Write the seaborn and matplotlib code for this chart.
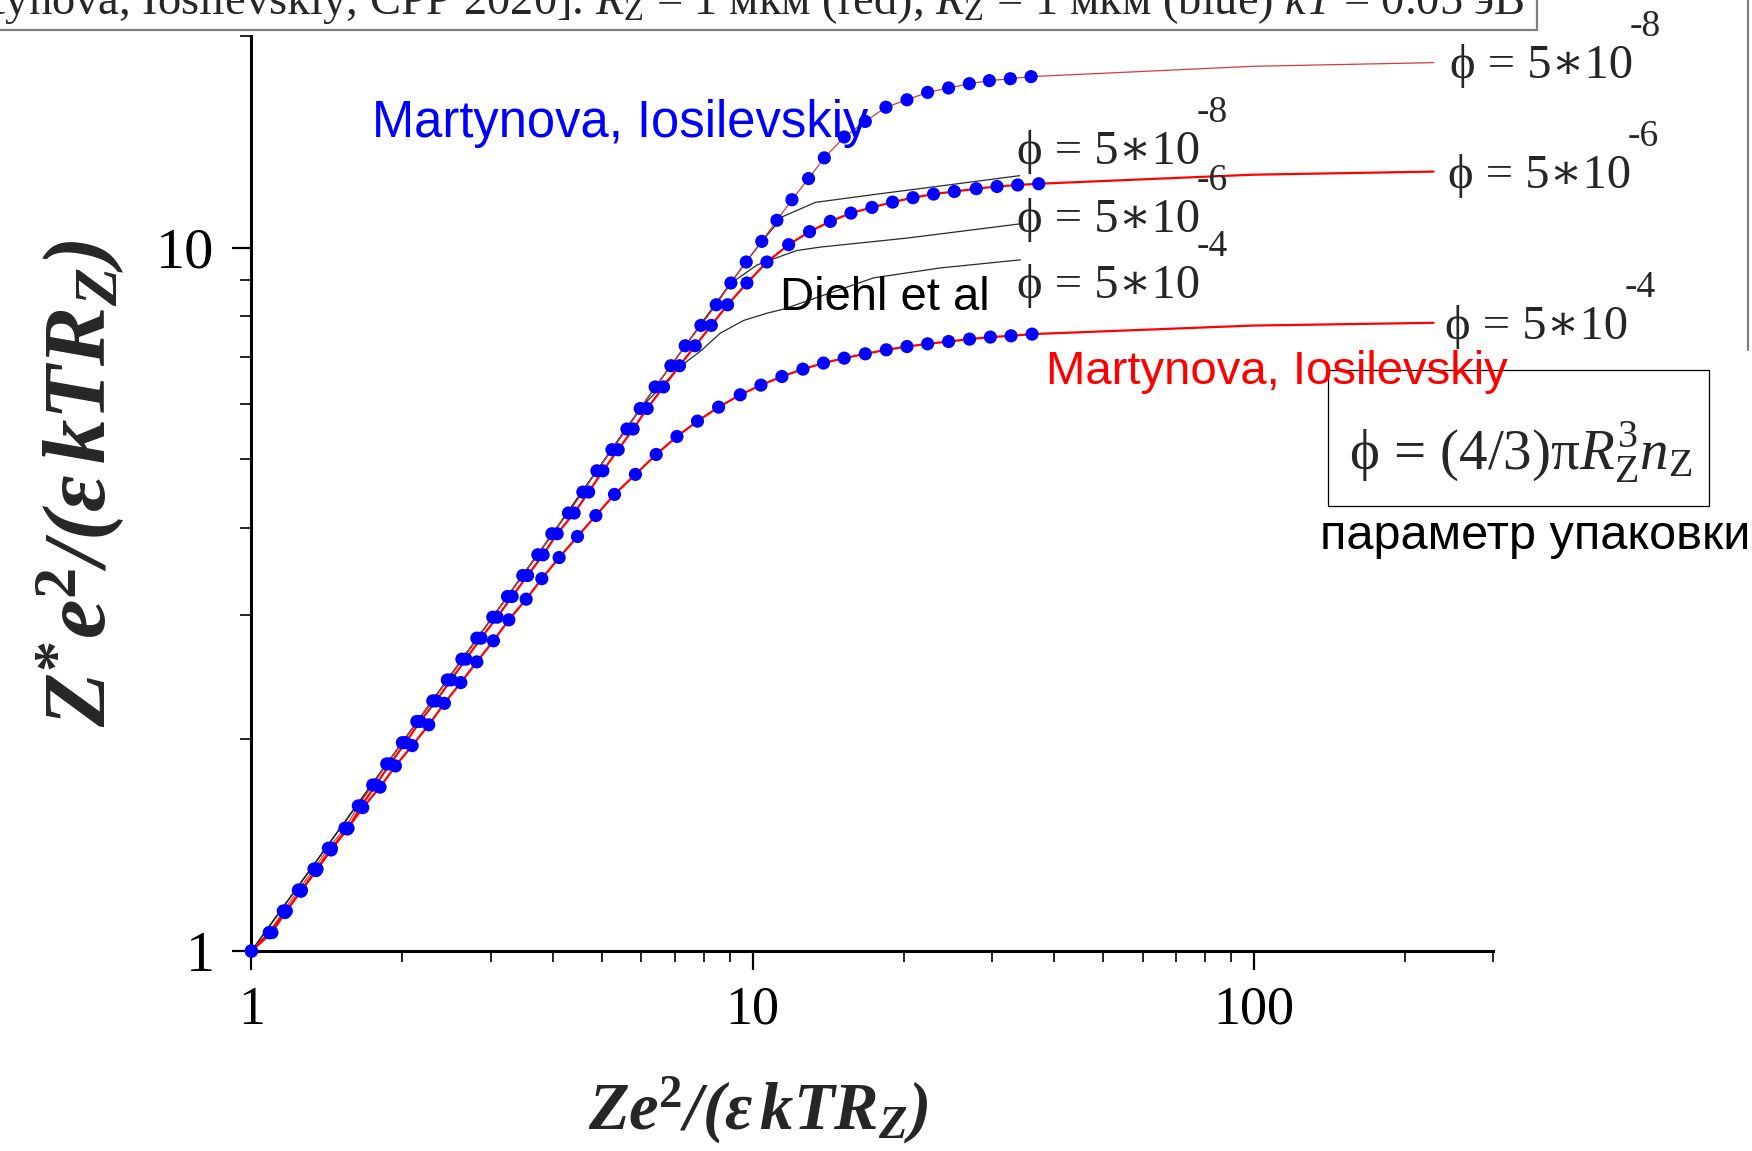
import matplotlib
matplotlib.use("Agg")
import matplotlib.pyplot as plt
import seaborn as sns
from matplotlib.ticker import FixedLocator, NullFormatter
from matplotlib.lines import Line2D
from matplotlib.patches import Rectangle

# Martynova, Iosilevskiy: computed points (blue dots), phi = 5e-8
x_m8 = [1.0, 1.086, 1.158, 1.241, 1.333, 1.424, 1.537, 1.634, 1.746, 1.862, 2.001, 2.138,
        2.301, 2.460, 2.630, 2.817, 3.031, 3.243, 3.479, 3.728, 3.976, 4.291, 4.584, 4.890,
        5.240, 5.613, 5.966, 6.391, 6.870, 7.336, 7.885, 8.461, 9.049, 9.710, 10.43, 11.18,
        11.98, 12.93, 13.90, 15.23, 16.78, 18.45, 20.32, 22.34, 24.60, 27.06, 29.67, 32.67, 35.94]
y_m8 = [1.0, 1.062, 1.140, 1.221, 1.308, 1.400, 1.495, 1.608, 1.722, 1.845, 1.978, 2.120,
        2.268, 2.429, 2.600, 2.785, 2.983, 3.192, 3.419, 3.659, 3.920, 4.195, 4.493, 4.817,
        5.161, 5.523, 5.907, 6.339, 6.795, 7.254, 7.754, 8.296, 8.909, 9.543, 10.21, 10.94,
        11.70, 12.54, 13.42, 14.37, 15.12, 15.84, 16.23, 16.63, 16.87, 17.11, 17.28, 17.39, 17.51]

# phi = 5e-6
x_m6 = [1.0, 1.099, 1.174, 1.258, 1.352, 1.444, 1.559, 1.657, 1.770, 1.891, 2.030, 2.170,
        2.336, 2.502, 2.678, 2.872, 3.092, 3.313, 3.557, 3.819, 4.074, 4.405, 4.708, 5.026,
        5.392, 5.776, 6.160, 6.639, 7.146, 7.683, 8.271, 8.913, 9.741, 10.68, 11.80, 12.99,
        14.29, 15.71, 17.30, 19.02, 20.89, 22.96, 25.26, 27.94, 30.73, 33.79, 37.22]
y_m6 = [1.0, 1.062, 1.140, 1.221, 1.308, 1.400, 1.495, 1.608, 1.722, 1.845, 1.978, 2.120,
        2.268, 2.429, 2.600, 2.785, 2.983, 3.192, 3.419, 3.659, 3.920, 4.195, 4.493, 4.817,
        5.161, 5.523, 5.907, 6.339, 6.795, 7.254, 7.754, 8.296, 8.909, 9.543, 10.10, 10.54,
        10.90, 11.20, 11.41, 11.61, 11.78, 11.92, 12.02, 12.13, 12.22, 12.28, 12.33]

# phi = 5e-4
x_m4 = [1.0, 1.086, 1.167, 1.256, 1.346, 1.442, 1.554, 1.668, 1.806, 1.938, 2.093, 2.259,
        2.427, 2.617, 2.817, 3.040, 3.263, 3.533, 3.797, 4.111, 4.473, 4.867, 5.302, 5.837,
        6.421, 7.063, 7.762, 8.553, 9.446, 10.39, 11.44, 12.60, 13.85, 15.23, 16.78, 18.48,
        20.32, 22.34, 24.60, 27.09, 29.81, 32.78, 36.10]
y_m4 = [1.0, 1.062, 1.134, 1.216, 1.301, 1.392, 1.491, 1.599, 1.710, 1.833, 1.959, 2.097,
        2.250, 2.408, 2.577, 2.761, 2.957, 3.164, 3.384, 3.626, 3.885, 4.161, 4.459, 4.761,
        5.082, 5.390, 5.668, 5.934, 6.178, 6.377, 6.559, 6.720, 6.855, 6.966, 7.065, 7.158,
        7.236, 7.300, 7.355, 7.413, 7.463, 7.494, 7.536]

# red line continuation beyond the dots
x_tail = [99.5, 228.3]
y_tail_m8 = [18.11, 18.33]
y_tail_m6 = [12.70, 12.83]
y_tail_m4 = [7.75, 7.82]

# Diehl et al (thin black lines)
x_d8 = [1.0, 2.0, 4.0, 6.4, 9.7, 10.43, 11.51, 13.34, 17.43, 23.69, 34.1]
y_d8 = [1.0, 1.98, 3.93, 6.34, 9.55, 10.21, 11.08, 11.60, 11.90, 12.24, 12.66]
x_d6 = [1.0, 2.0, 4.0, 6.4, 9.05, 10.2, 11.36, 12.26, 13.64, 20.32, 34.1]
y_d6 = [1.0, 1.98, 3.93, 6.34, 8.9, 9.45, 9.72, 9.91, 10.02, 10.32, 10.81]
x_d4 = [1.0, 2.0, 4.0, 6.0, 7.17, 7.86, 8.62, 9.59, 10.68, 11.53, 17.43, 23.69, 34.2]
y_d4 = [1.0, 1.98, 3.93, 5.93, 6.78, 7.12, 7.56, 7.88, 8.07, 8.18, 9.06, 9.36, 9.61]

x_ticks = [1, 10, 100]
x_ticklabels = ["1", "10", "100"]
y_ticks = [1, 10]
y_ticklabels = ["1", "10"]

sns.set_style("ticks")
plt.rcParams['font.family'] = ['Liberation Serif', 'DejaVu Serif']
plt.rcParams['mathtext.fontset'] = 'custom'
plt.rcParams['mathtext.rm'] = 'Liberation Serif'
plt.rcParams['mathtext.it'] = 'Liberation Serif:italic'
plt.rcParams['mathtext.bf'] = 'Liberation Serif:bold'
plt.rcParams['mathtext.bfit'] = 'Liberation Serif:italic:bold'

W, H = 1752, 1151
fig = plt.figure(figsize=(W / 100, H / 100), dpi=100)
ax = fig.add_axes([251.4 / W, 200 / H, 1241.6 / W, 915 / H])


def fx(px):
    return px / W


def fy(py):
    return 1 - py / H


# Diehl et al
for xd, yd in [(x_d8, y_d8), (x_d6, y_d6), (x_d4, y_d4)]:
    sns.lineplot(x=xd, y=yd, ax=ax, color="#2a2a2a", lw=0.9, sort=False,
                 estimator=None, zorder=2)

# red lines
sns.lineplot(x=x_m8 + x_tail, y=y_m8 + y_tail_m8, ax=ax, color="#d83a3a", lw=0.9,
             sort=False, estimator=None, zorder=3)
sns.lineplot(x=x_m6 + x_tail, y=y_m6 + y_tail_m6, ax=ax, color="#ff0000", lw=1.6,
             sort=False, estimator=None, zorder=3)
sns.lineplot(x=x_m4 + x_tail, y=y_m4 + y_tail_m4, ax=ax, color="#ff0000", lw=1.6,
             sort=False, estimator=None, zorder=3)

# blue dots
for xm, ym in [(x_m8, y_m8), (x_m6, y_m6), (x_m4, y_m4)]:
    sns.scatterplot(x=xm, y=ym, ax=ax, color="#0000ff", s=90, edgecolor="none",
                    zorder=4, clip_on=False)

ax.set_xscale("log")
ax.set_yscale("log")
ax.set_xlim(1, 300)
ax.set_ylim(1, 20)

ax.xaxis.set_major_locator(FixedLocator(x_ticks))
ax.set_xticklabels(x_ticklabels)
ax.yaxis.set_major_locator(FixedLocator(y_ticks))
ax.set_yticklabels(y_ticklabels)
ax.xaxis.set_minor_locator(FixedLocator([2, 3, 4, 5, 6, 7, 8, 9, 20, 30, 40, 50, 60, 70, 80, 90, 200, 300]))
ax.yaxis.set_minor_locator(FixedLocator([2, 3, 4, 5, 6, 7, 8, 9, 20]))
ax.xaxis.set_minor_formatter(NullFormatter())
ax.yaxis.set_minor_formatter(NullFormatter())

sns.despine(ax=ax)
for s in ["left", "bottom"]:
    ax.spines[s].set_linewidth(2.2)
    ax.spines[s].set_color("black")
ax.tick_params(which="major", direction="out", length=13.5, width=1.6, color="black",
               labelcolor="black")
ax.tick_params(axis="x", which="major", pad=11, labelsize=39)
ax.tick_params(axis="y", which="major", pad=13, labelsize=42)
ax.tick_params(which="minor", direction="out", length=8, width=1.2, color="black")
ax.grid(False)

# axis labels
fig.text(fx(758), fy(1130), r"$\mathbfit{Ze}^{\mathbf{2}}\mathbfit{/(\varepsilon\,kTR_Z)}$",
         fontsize=48, ha="center", va="baseline")
fig.text(fx(80), fy(483), r"$\mathbfit{Z}^{\mathbf{*}}\mathbfit{e}^{\mathbf{2}}\mathbfit{/(\varepsilon\,kTR_Z)}$",
         fontsize=64, ha="center", va="center", rotation=90)

# title line at the top (cut by the figure edge)
fig.text(fx(1525), fy(14),
         r"[Martynova, Iosilevskiy, CPP 2020]. $R_\mathrm{Z}$ = 1 мкм (red), "
         r"$R_\mathrm{Z}$ = 1 мкм (blue) $kT$ = 0.05 эВ",
         fontsize=33.5, ha="right", va="baseline")
fig.add_artist(Line2D([0, fx(1537)], [fy(30), fy(30)], color="#808080", lw=1.6))
fig.add_artist(Line2D([fx(1537), fx(1537)], [fy(30), 1], color="#808080", lw=1.6))
fig.add_artist(Line2D([fx(1748), fx(1748)], [fy(350), 1], color="#808080", lw=1.6))

# phi labels
phi_txt = "\u03d5 = 5\u221710"
for left, base, exp in [(1017, 164, "-8"), (1017, 232, "-6"), (1017, 298, "-4"),
                        (1450, 78, "-8"), (1448, 188, "-6"), (1445, 339, "-4")]:
    fig.text(fx(left), fy(base), phi_txt, fontsize=35, ha="left", va="baseline",
             family=["Liberation Serif", "DejaVu Serif"])
    fig.text(fx(left + 180), fy(base - 42), exp, fontsize=27, ha="left", va="baseline")

fig.text(fx(372), fy(124), "Martynova, Iosilevskiy", color="#0000ff", fontsize=36.5,
         family="Liberation Sans", ha="left", va="center")
fig.text(fx(780), fy(298), "Diehl et al", color="black", fontsize=34,
         family="Liberation Sans", ha="left", va="center")
fig.text(fx(1046), fy(372), "Martynova, Iosilevskiy", color="#ff0000", fontsize=34,
         family="Liberation Sans", ha="left", va="center", zorder=5)

fig.add_artist(Rectangle((fx(1328), fy(506)), fx(1709) - fx(1328), fy(370) - fy(506),
                         fill=False, edgecolor="black", lw=0.9, zorder=1))
fig.text(fx(1521), fy(452), r"$\mathrm{\phi}$ = (4/3)$\mathrm{\pi} R_\mathrm{Z}^3 n_\mathrm{Z}$",
         fontsize=41, ha="center", va="center")
fig.text(fx(1535), fy(537), "параметр упаковки", color="black", fontsize=35,
         family="Liberation Sans", ha="center", va="center")

fig.savefig("out.png", dpi=100)
